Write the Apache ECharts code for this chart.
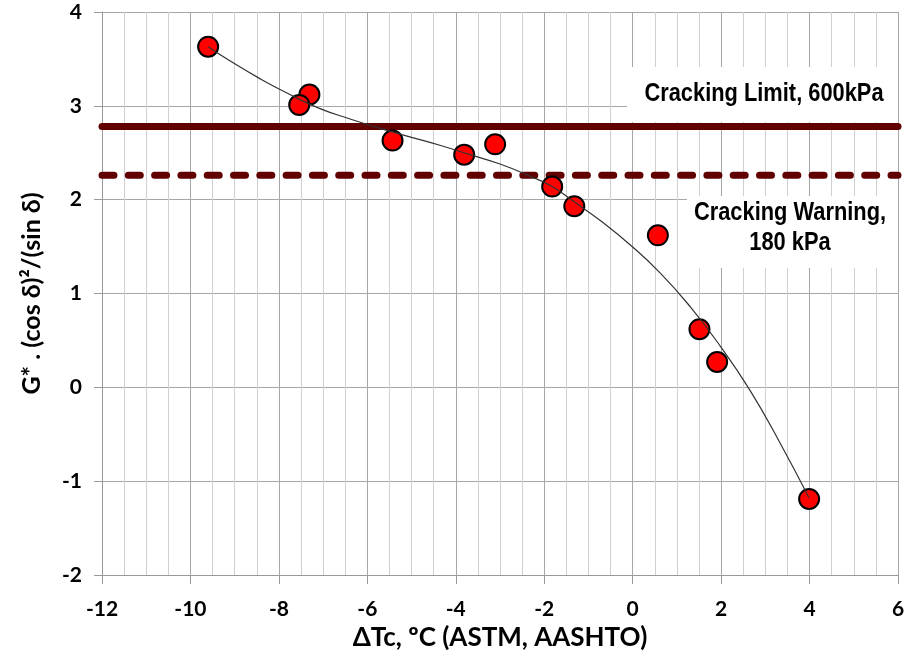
<!DOCTYPE html>
<html>
<head>
<meta charset="utf-8">
<title>Glover-Rowe parameter vs ΔTc</title>
<script src="https://cdn.jsdelivr.net/npm/echarts@6/dist/echarts.min.js"></script>
<style>
  html, body { margin: 0; padding: 0; background: #ffffff; }
  #chart { width: 908px; height: 657px; }
</style>
</head>
<body>
<div id="chart"></div>
<script>
// Measured binders: ΔTc (°C) and log G*·(cos δ)²/(sin δ)
const deltaTc = [-9.60, -7.31, -7.54, -5.43, -3.81, -3.11, -1.82, -1.32, 0.57, 1.51, 1.91, 3.99];
const grParam = [3.63, 3.12, 3.01, 2.63, 2.48, 2.59, 2.14, 1.93, 1.62, 0.62, 0.27, -1.19];

// Trend curve through the data
const trendX = [-9.60, -9.11, -8.43, -7.75, -7.07, -6.39, -5.71, -5.04, -4.36, -3.68, -3.00, -2.32, -1.82, -1.33, -0.74, -0.06, 0.62, 1.30, 1.98, 2.65, 3.33, 3.99];
const trendY = [3.63, 3.48, 3.29, 3.12, 2.97, 2.86, 2.76, 2.67, 2.58, 2.48, 2.38, 2.25, 2.14, 1.98, 1.78, 1.52, 1.22, 0.86, 0.44, -0.03, -0.59, -1.18];

// Cracking thresholds (log of 600 kPa and 180 kPa)
const crackingLimit = 2.78;
const crackingWarning = 2.26;

// Axis ranges and tick steps
const xRange = [-12, 6];
const xStep = 2;
const yRange = [-2, 4];
const yStep = 1;

const zip = (xs, ys) => xs.map((x, i) => [x, ys[i]]);

const chart = echarts.init(document.getElementById('chart'), null, { renderer: 'canvas' });

const boldFont = 'Lato, "Open Sans", sans-serif';
const boxFont = '"Liberation Sans", Arial, sans-serif';

chart.setOption({
  animation: false,
  backgroundColor: '#ffffff',
  grid: { left: 102, right: 10, top: 12, bottom: 82, containLabel: false },
  xAxis: {
    type: 'value',
    min: xRange[0], max: xRange[1], interval: xStep,
    name: 'ΔTc, ºC (ASTM, AASHTO)',
    nameLocation: 'middle',
    nameGap: 47,
    nameTextStyle: { fontFamily: boldFont, fontWeight: 'bold', fontSize: 26, color: '#000' },
    axisLine: { show: true, onZero: false, lineStyle: { color: '#999', width: 1 } },
    axisTick: { show: true, length: 9, lineStyle: { color: '#999' } },
    axisLabel: { fontFamily: boldFont, fontWeight: 'bold', fontSize: 21, color: '#000', margin: 24 },
    splitLine: { show: true, lineStyle: { color: '#a6a6a6', width: 1 } },
    minorTick: { show: false, splitNumber: 4 },
    minorSplitLine: { show: true, lineStyle: { color: '#d0d0d0', width: 1 } }
  },
  yAxis: {
    type: 'value',
    min: yRange[0], max: yRange[1], interval: yStep,
    name: 'G* . (cos δ)²/(sin δ)',
    nameLocation: 'middle',
    nameRotate: 90,
    nameGap: 58,
    nameTextStyle: { fontFamily: boldFont, fontWeight: 'bold', fontSize: 25, color: '#000' },
    axisLine: { show: true, onZero: false, lineStyle: { color: '#999', width: 1 } },
    axisTick: { show: true, length: 8, lineStyle: { color: '#999' } },
    axisLabel: { fontFamily: boldFont, fontWeight: 'bold', fontSize: 21, color: '#000', margin: 20 },
    splitLine: { show: true, lineStyle: { color: '#a6a6a6', width: 1 } }
  },
  graphic: [
    {
      type: 'rect', z: 1, silent: true,
      shape: { x: 627, y: 67, width: 271, height: 55 },
      style: { fill: '#ffffff' }
    },
    {
      type: 'text', z: 1, silent: true,
      x: 764, y: 94, scaleX: 0.84,
      style: {
        text: 'Cracking Limit, 600kPa',
        fontFamily: boxFont, fontWeight: 'bold', fontSize: 26,
        fill: '#000', align: 'center', verticalAlign: 'middle'
      }
    },
    {
      type: 'rect', z: 1, silent: true,
      shape: { x: 687, y: 196, width: 211, height: 72 },
      style: { fill: '#ffffff' }
    },
    {
      type: 'text', z: 1, silent: true,
      x: 790, y: 228, scaleX: 0.84,
      style: {
        text: 'Cracking Warning,\n180 kPa',
        fontFamily: boxFont, fontWeight: 'bold', fontSize: 26, lineHeight: 30,
        fill: '#000', align: 'center', verticalAlign: 'middle'
      }
    }
  ],
  series: [
    {
      name: 'Cracking Limit',
      type: 'line',
      z: 3,
      symbol: 'none',
      silent: true,
      data: [[xRange[0], crackingLimit], [xRange[1], crackingLimit]],
      lineStyle: { color: '#600000', width: 7, cap: 'round' }
    },
    {
      name: 'Cracking Warning',
      type: 'line',
      z: 3,
      symbol: 'none',
      silent: true,
      data: [[xRange[0], crackingWarning], [xRange[1], crackingWarning]],
      lineStyle: { color: '#600000', width: 7, type: [12, 14.3], cap: 'round' }
    },
    {
      name: 'Binders',
      type: 'scatter',
      z: 4,
      symbol: 'circle',
      symbolSize: 20,
      data: zip(deltaTc, grParam),
      itemStyle: { color: '#ff0000', borderColor: '#000000', borderWidth: 2, opacity: 1 }
    },
    {
      name: 'Trend',
      type: 'line',
      z: 5,
      symbol: 'none',
      smooth: 0.5,
      silent: true,
      data: zip(trendX, trendY),
      lineStyle: { color: '#333333', width: 1.2 }
    }
  ]
});
</script>
</body>
</html>
